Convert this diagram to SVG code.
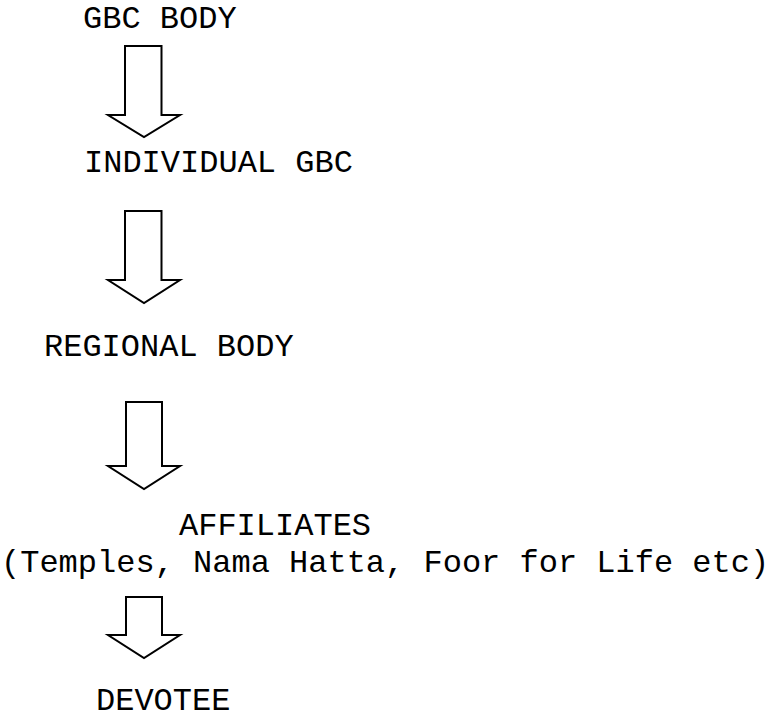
<svg xmlns="http://www.w3.org/2000/svg" width="773" height="719" viewBox="0 0 773 719">
  <style>
    .lbl { font-family: "Liberation Mono", "DejaVu Sans Mono", monospace; font-size: 32px; fill: #000; }
    .arrow { fill: #fff; stroke: #000; stroke-width: 2; stroke-linejoin: miter; }
  </style>
  <rect width="773" height="719" fill="#fff"/>

  <g id="gbc-body"><text class="lbl" x="83" y="28">GBC BODY</text></g>
  <g id="individual-gbc"><text class="lbl" x="84" y="172">INDIVIDUAL GBC</text></g>
  <g id="regional-body"><text class="lbl" x="44" y="356">REGIONAL BODY</text></g>
  <g id="affiliates">
    <text class="lbl" x="179" y="535">AFFILIATES</text>
    <text class="lbl" x="1" y="572">(Temples, Nama Hatta, Foor for Life etc)</text>
  </g>
  <g id="devotee"><text class="lbl" x="96" y="710">DEVOTEE</text></g>

  <!-- block arrows between levels -->
  <g id="connectors">
    <path class="arrow" d="M125,46 H161.5 V115 H180 L144,137 L108,115 H125 Z"/>
    <path class="arrow" d="M125,211 H161.5 V280 H180 L144,303 L108,280 H125 Z"/>
    <path class="arrow" d="M126,402 H162 V466 H180 L144,489 L108,466 H126 Z"/>
    <path class="arrow" d="M126,597 H162 V635 H180 L144,658 L108,635 H126 Z"/>
  </g>
</svg>
